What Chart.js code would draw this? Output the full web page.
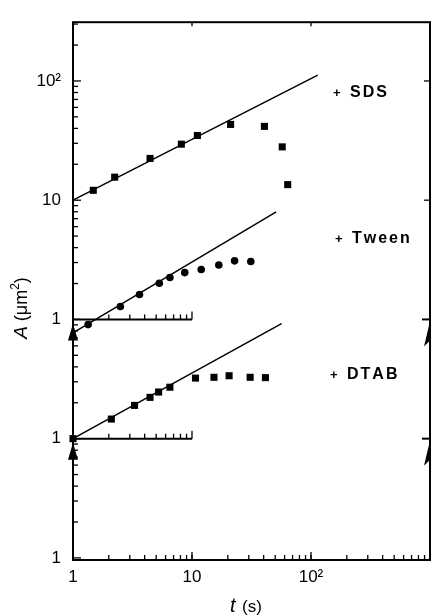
<!DOCTYPE html>
<html><head><meta charset="utf-8">
<script src="https://cdn.jsdelivr.net/npm/chart.js@4/dist/chart.umd.min.js"></script>
<style>html,body{margin:0;padding:0;background:#fff}#wrap{width:435px;height:616px;position:relative}canvas{display:block}</style>
</head><body><div id="wrap"><canvas id="c" width="435" height="616" style="width:435px;height:616px"></canvas></div>
<script>
// ---- data ----
const sdsT   = [1.48, 2.24, 4.44, 8.14, 11.1, 21.1, 40.6, 57.3, 63.7];
const sdsA   = [12.1, 15.6, 22.4, 29.5, 34.9, 43.2, 41.6, 28.0, 13.5];
const tweenT = [1.34, 2.50, 3.62, 5.31, 6.52, 8.69, 11.95, 16.8, 22.8, 31.2];
const tweenA = [0.905, 1.285, 1.62, 2.01, 2.25, 2.47, 2.62, 2.86, 3.10, 3.06];
const dtabT  = [1.0, 2.10, 3.29, 4.44, 5.24, 6.52, 10.7, 15.3, 20.5, 30.8, 41.4];
const dtabA  = [1.0, 1.46, 1.90, 2.22, 2.46, 2.70, 3.22, 3.27, 3.37, 3.27, 3.25];
// straight power-law fits (end points)
const sdsFitT   = [1, 114];  const sdsFitA   = [10, 112];
const tweenFitT = [1, 51];   const tweenFitA = [0.77, 7.97];
const dtabFitT  = [1, 56.6]; const dtabFitA  = [1, 9.22];
// stacked curves: multiplicative offset on the shared A axis
const offSDS = 1, offTween = 1, offDTAB = 0.1;
const seriesNames = ['SDS', 'Tween', 'DTAB'];
const xTicks = [1, 10, 100];            const xTickLabels = ['1', '10', '10²'];
const yTicks = [0.01, 0.1, 1, 10, 100]; const yTickLabels = ['1', '1', '1', '10', '10²'];

const pts = (T, A, k) => T.map((t, i) => ({x: t, y: A[i] * k}));
const FONT = "'Liberation Sans', Arial, sans-serif";

const deco = {
  id: 'deco',
  afterDraw(chart) {
    const {ctx, chartArea: a, scales: {x, y}} = chart;
    ctx.save();
    ctx.strokeStyle = '#000'; ctx.fillStyle = '#000';
    const line = (x1, y1, x2, y2) => { ctx.beginPath(); ctx.moveTo(x1, y1); ctx.lineTo(x2, y2); ctx.stroke(); };
    ctx.lineWidth = 2;
    ctx.strokeRect(a.left, a.top, a.right - a.left, a.bottom - a.top);
    ctx.lineWidth = 1.3;
    // left axis minor/major ticks (inward)
    for (let d = -3; d <= 2; d++) for (let m = 1; m <= 9; m++) {
      const v = m * Math.pow(10, d);
      if (v < y.min || v > y.max) continue;
      const py = y.getPixelForValue(v);
      line(a.left, py, a.left + (m === 1 ? 8 : 5), py);
    }
    // bottom axis ticks (inward)
    for (let d = 0; d <= 2; d++) for (let m = 1; m <= 10; m++) {
      const v = m * Math.pow(10, d);
      if (v <= x.min || v > x.max) continue;
      const px = x.getPixelForValue(v);
      line(px, a.bottom, px, a.bottom - (m === 10 ? 8 : 5));
    }
    // top axis ticks
    [10, 100].forEach(v => { const px = x.getPixelForValue(v); line(px, a.top, px, a.top + 4); });
    // right axis ticks
    [100, 10].forEach(v => { const py = y.getPixelForValue(v); line(a.right, py, a.right - 6, py); });
    // baselines of the lower panels
    [offTween, offDTAB].forEach(b => {
      const py = y.getPixelForValue(b);
      ctx.lineWidth = 2;
      line(x.getPixelForValue(1), py, x.getPixelForValue(10), py);
      line(a.right - 8, py, a.right, py);
      ctx.lineWidth = 1.3;
      for (let m = 2; m <= 10; m++) {
        const px = x.getPixelForValue(m);
        line(px, py, px, py - (m === 10 ? 8 : 5));
      }
      // left arrow
      ctx.beginPath();
      ctx.moveTo(a.left, py + 4); ctx.lineTo(a.left - 5, py + 21); ctx.lineTo(a.left + 5, py + 21);
      ctx.closePath(); ctx.fill();
      // right arrow
      ctx.beginPath();
      ctx.moveTo(a.right - 1, py + 6); ctx.lineTo(a.right - 6, py + 27); ctx.lineTo(a.right - 1, py + 22);
      ctx.closePath(); ctx.fill();
    });
    // series labels
    const lab = (txt, lx, ly) => {
      ctx.textBaseline = 'middle'; ctx.textAlign = 'left';
      ctx.font = 'bold 13px ' + FONT;
      ctx.fillText('+', lx, ly);
      ctx.font = 'bold 16px ' + FONT;
      let cx = lx + 17;
      for (const ch of txt) { ctx.fillText(ch, cx, ly); cx += ctx.measureText(ch).width + 2; }
    };
    lab(seriesNames[0], 333, 93);
    lab(seriesNames[1], 335, 239);
    lab(seriesNames[2], 330, 375);
    // x title
    ctx.textBaseline = 'alphabetic'; ctx.textAlign = 'left';
    ctx.font = 'italic 20px ' + FONT;
    ctx.fillText('t', 230, 612);
    ctx.font = '17px ' + FONT;
    ctx.fillText('(s)', 242, 612);
    // y title
    ctx.translate(27, 308);
    ctx.rotate(-Math.PI / 2);
    const parts = [['A', 'italic 19px '], [' (μm', '18px '], ['2', '12px '], [')', '18px ']];
    let w = 0;
    parts.forEach(p => { ctx.font = p[1] + FONT; w += ctx.measureText(p[0]).width; });
    let cx = -w / 2;
    parts.forEach(p => {
      ctx.font = p[1] + FONT;
      ctx.fillText(p[0], cx, p[0] === '2' ? -8 : 0);
      cx += ctx.measureText(p[0]).width;
    });
    ctx.restore();
  }
};

const sq = {pointStyle: 'rect', pointRadius: 5, pointBackgroundColor: '#000', pointBorderColor: '#000', pointBorderWidth: 0, showLine: false, clip: false};
const fit = {borderColor: '#000', borderWidth: 1.5, pointRadius: 0, showLine: true, clip: false};

new Chart(document.getElementById('c'), {
  type: 'scatter',
  data: {
    datasets: [
      {label: seriesNames[0] + ' fit', data: pts(sdsFitT, sdsFitA, offSDS), ...fit},
      {label: seriesNames[1] + ' fit', data: pts(tweenFitT, tweenFitA, offTween), ...fit},
      {label: seriesNames[2] + ' fit', data: pts(dtabFitT, dtabFitA, offDTAB), ...fit},
      {label: seriesNames[0], data: pts(sdsT, sdsA, offSDS), ...sq},
      {label: seriesNames[1], data: pts(tweenT, tweenA, offTween), ...sq, pointStyle: 'circle', pointRadius: 3.8},
      {label: seriesNames[2], data: pts(dtabT, dtabA, offDTAB), ...sq}
    ]
  },
  options: {
    responsive: false, maintainAspectRatio: false, animation: false,
    devicePixelRatio: 1,
    layout: {padding: {top: 10, right: 2, left: 0, bottom: 0}},
    plugins: {legend: {display: false}, tooltip: {enabled: false}},
    scales: {
      x: {
        type: 'logarithmic', min: 1, max: 1000,
        grid: {display: false, drawTicks: false},
        border: {display: false},
        afterBuildTicks: s => { s.ticks = xTicks.map(v => ({value: v})); },
        afterFit: s => { s.height = 56; },
        ticks: {autoSkip: false, maxRotation: 0, padding: 7, color: '#000',
          font: {family: FONT, size: 17},
          callback: (v, i) => xTickLabels[i]}
      },
      y: {
        type: 'logarithmic', min: 0.0096, max: 311,
        grid: {display: false, drawTicks: false},
        border: {display: false},
        afterBuildTicks: s => { s.ticks = yTicks.map(v => ({value: v})); },
        afterFit: s => { s.width = 73; },
        ticks: {autoSkip: false, padding: 12, color: '#000',
          font: {family: FONT, size: 17},
          callback: (v, i) => yTickLabels[i]}
      }
    }
  },
  plugins: [deco]
});
</script>
</body></html>
